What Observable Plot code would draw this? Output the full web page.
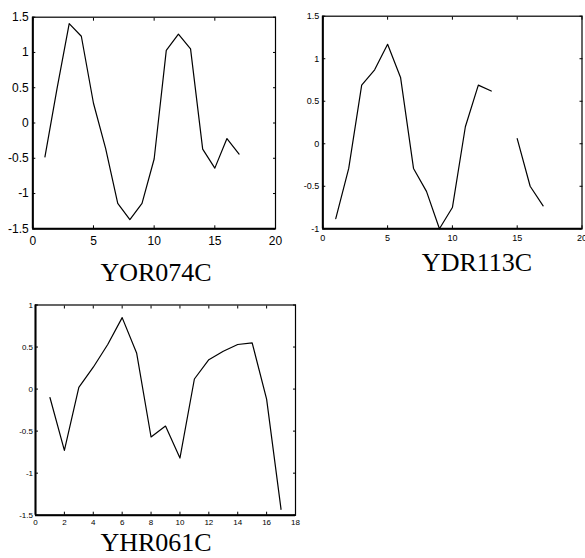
<!DOCTYPE html>
<html><head><meta charset="utf-8">
<script src="https://cdn.jsdelivr.net/npm/d3@7"></script>
<script src="https://cdn.jsdelivr.net/npm/@observablehq/plot@0.6"></script>
<style>
html,body{margin:0;padding:0;background:#fff}
body{width:585px;height:558px;overflow:hidden;position:relative;font-family:"Liberation Sans",Arial,sans-serif}
.panel{position:absolute}
.title{position:absolute;font-family:"Liberation Serif","Times New Roman",serif;font-size:26px;line-height:18px;height:18px;white-space:nowrap;transform:translateX(-50%);color:#000}
</style></head><body>
<script>
// ---- data ----
const timepoints = [1,2,3,4,5,6,7,8,9,10,11,12,13,14,15,16,17];
const genes = ["YOR074C", "YDR113C", "YHR061C"];
const yor074c = [-0.48, 0.49, 1.41, 1.23, 0.28, -0.36, -1.14, -1.37, -1.14, -0.51, 1.03, 1.26, 1.05, -0.37, -0.64, -0.22, -0.44];
const ydr113c = [-0.88, -0.29, 0.69, 0.87, 1.17, 0.78, -0.29, -0.56, -1.0, -0.75, 0.20, 0.69, 0.62, null, 0.06, -0.50, -0.73];
const yhr061c = [-0.10, -0.73, 0.02, 0.26, 0.53, 0.85, 0.43, -0.57, -0.44, -0.82, 0.12, 0.35, 0.45, 0.53, 0.55, -0.12, -1.43];
const xTicksA = [0, 5, 10, 15, 20];
const yTicksA = [-1.5, -1, -0.5, 0, 0.5, 1, 1.5];
const xTicksB = [0, 5, 10, 15, 20];
const yTicksB = [-1, -0.5, 0, 0.5, 1, 1.5];
const xTicksC = [0, 2, 4, 6, 8, 10, 12, 14, 16, 18];
const yTicksC = [-1.5, -1, -0.5, 0, 0.5, 1];

function panel(values, o) {
  const data = timepoints.map((t, i) => ({t, v: values[i]}));
  const fmt = d => String(d);
  const none = () => "";
  return Plot.plot({
    width: o.width, height: o.height,
    marginLeft: o.ml, marginRight: o.mr, marginTop: o.mt, marginBottom: o.mb,
    x: {domain: o.xDomain},
    y: {domain: o.yDomain},
    style: {fontFamily: '"Liberation Sans", Arial, sans-serif', fontSize: o.fontSize + "px", color: "#000", background: "transparent", overflow: "visible"},
    marks: [
      Plot.axisX(o.xTicks, {anchor: "bottom", tickSize: 0, tickPadding: o.xPad, tickFormat: fmt, label: null, fontSize: o.fontSize}),
      Plot.axisX(o.xTicks, {anchor: "bottom", tickSize: -3, tickFormat: none, label: null}),
      Plot.axisX(o.xTicks, {anchor: "top", tickSize: -3, tickFormat: none, label: null}),
      Plot.axisY(o.yTicks, {anchor: "left", tickSize: 0, tickPadding: o.yPad, tickFormat: fmt, label: null, fontSize: o.fontSize}),
      Plot.axisY(o.yTicks, {anchor: "left", tickSize: -3, tickFormat: none, label: null}),
      Plot.axisY(o.yTicks, {anchor: "right", tickSize: -3, tickFormat: none, label: null}),
      Plot.frame({stroke: "#000", strokeWidth: 1.2}),
      Plot.ruleX([o.xDomain[0]], {stroke: "#000", strokeWidth: 2}),
      Plot.ruleY([o.yDomain[0]], {stroke: "#000", strokeWidth: 2}),
      Plot.line(data, {x: "t", y: "v", stroke: "#000", strokeWidth: 1.2})
    ]
  });
}

const configs = [
  {values: yor074c, left: 0, top: 0, width: 290, height: 260, ml: 32.3, mr: 15, mt: 16.7, mb: 31.7,
   xDomain: [0, 20], yDomain: [-1.5, 1.5], xTicks: xTicksA, yTicks: yTicksA, fontSize: 12, xPad: 8, yPad: 4,
   titleX: 156, titleBase: 281.7},
  {values: ydr113c, left: 290, top: 0, width: 295, height: 260, ml: 32.3, mr: 3.5, mt: 15.7, mb: 31.7,
   xDomain: [0, 20], yDomain: [-1, 1.5], xTicks: xTicksB, yTicks: yTicksB, fontSize: 9, xPad: 6, yPad: 3.5,
   titleX: 477, titleBase: 271.7},
  {values: yhr061c, left: 0, top: 280, width: 310, height: 260, ml: 35, mr: 15, mt: 24.5, mb: 25.3,
   xDomain: [0, 18], yDomain: [-1.5, 1], xTicks: xTicksC, yTicks: yTicksC, fontSize: 8, xPad: 4, yPad: 2.5,
   titleX: 156, titleBase: 551.5}
];

configs.forEach((c, i) => {
  const div = document.createElement("div");
  div.className = "panel";
  div.style.left = c.left + "px";
  div.style.top = c.top + "px";
  div.appendChild(panel(c.values, c));
  document.body.appendChild(div);
  const t = document.createElement("div");
  t.className = "title";
  t.textContent = genes[i];
  t.style.left = c.titleX + "px";
  t.style.top = (c.titleBase - 17.8) + "px";
  document.body.appendChild(t);
});
</script>
</body></html>
